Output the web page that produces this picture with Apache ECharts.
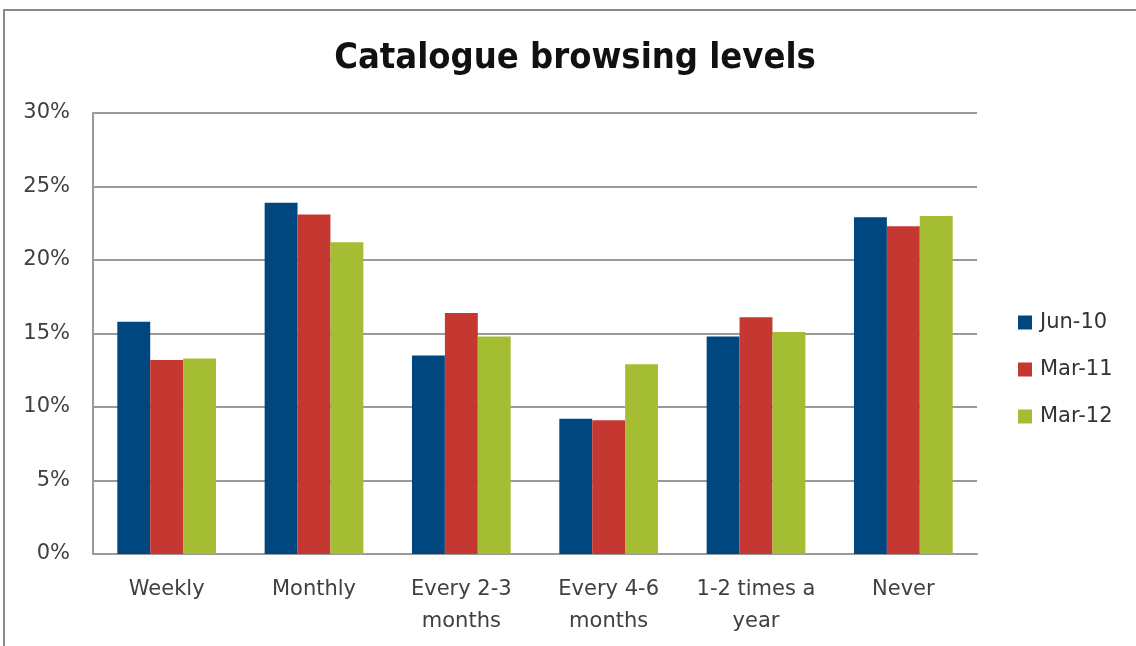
<!DOCTYPE html>
<html>
<head>
<meta charset="utf-8">
<script src="https://cdn.jsdelivr.net/npm/echarts@6/dist/echarts.min.js"></script>
<style>
  html, body { margin: 0; padding: 0; background: #fff; overflow: hidden; }
  #frame {
    position: absolute; left: 3px; top: 9px; width: 1200px; height: 700px;
    border: 2px solid #8a8a8a; box-sizing: border-box;
  }
  #chart { position: absolute; left: 0; top: 0; width: 1136px; height: 646px; }
</style>
</head>
<body>
<div id="frame"></div>
<div id="chart"></div>
<script>
// categories and values (percent)
const categories = ['Weekly', 'Monthly', 'Every 2-3\nmonths', 'Every 4-6\nmonths', '1-2 times a\nyear', 'Never'];
const seriesNames = ['Jun-10', 'Mar-11', 'Mar-12'];
const jun10 = [15.8, 23.9, 13.5, 9.2, 14.8, 22.9];
const mar11 = [13.2, 23.1, 16.4, 9.1, 16.1, 22.3];
const mar12 = [13.3, 21.2, 14.8, 12.9, 15.1, 23.0];
const colors = ['#01477f', '#c43831', '#a4bd32'];

const font = '"DejaVu Sans", sans-serif';
const titleFont = '"DejaVu Sans Condensed", "DejaVu Sans", sans-serif';

let chart = echarts.init(document.getElementById('chart'));
chart.setOption({
  animation: false,
  color: colors,
  title: {
    text: 'Catalogue browsing levels',
    left: 570,
    textAlign: 'center',
    top: 36,
    textStyle: { fontFamily: titleFont, fontSize: 36, fontWeight: 'bold', color: '#111' }
  },
  legend: {
    orient: 'vertical',
    left: 1013,
    top: 307,
    itemWidth: 14,
    itemHeight: 14,
    itemGap: 26,
    icon: 'rect',
    textStyle: { fontFamily: font, fontSize: 21, color: '#333', padding: [0, 0, 0, 3] },
    data: seriesNames
  },
  grid: { left: 93, right: 159, top: 113, bottom: 92 },
  xAxis: {
    type: 'category',
    data: categories,
    axisLine: { lineStyle: { color: '#9a9a9a', width: 2 } },
    axisTick: { show: false },
    axisLabel: {
      fontFamily: font, fontSize: 21, color: '#404040',
      margin: 20, lineHeight: 32, interval: 0
    }
  },
  yAxis: {
    type: 'value',
    min: 0,
    max: 30,
    interval: 5,
    axisLine: { show: true, lineStyle: { color: '#9a9a9a', width: 2 } },
    axisTick: { show: false },
    splitLine: { lineStyle: { color: '#9a9a9a', width: 2 } },
    axisLabel: {
      fontFamily: font, fontSize: 21, color: '#404040', margin: 23,
      formatter: '{value}%'
    }
  },
  series: [
    { name: seriesNames[0], type: 'bar', data: jun10, barGap: '0%', barCategoryGap: '33%' },
    { name: seriesNames[1], type: 'bar', data: mar11, barGap: '0%', barCategoryGap: '33%' },
    { name: seriesNames[2], type: 'bar', data: mar12, barGap: '0%', barCategoryGap: '33%' }
  ]
});
</script>
</body>
</html>
